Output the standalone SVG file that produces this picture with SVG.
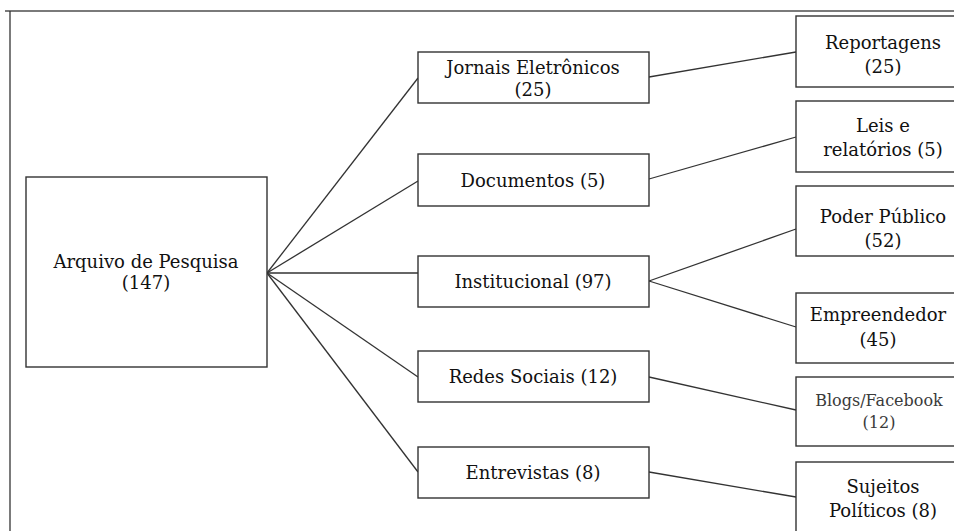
<svg xmlns="http://www.w3.org/2000/svg" width="954" height="531" viewBox="0 0 954 531">
<style>
.box{fill:#fff;stroke:#333;stroke-width:1.4}
.t{font-family:"DejaVu Serif","Liberation Serif",serif;font-size:18px;fill:#111;text-anchor:middle}
.s{font-family:"DejaVu Serif","Liberation Serif",serif;font-size:16px;fill:#3a3a3a;text-anchor:middle}
#connectors line{stroke:#333;stroke-width:1.3;fill:none}
</style>
<rect width="954" height="531" fill="#fff"/>
<g id="frame">
<line x1="5" y1="11" x2="954" y2="11" stroke="#7a7a7a" stroke-width="2"/>
<line x1="10" y1="11" x2="10" y2="531" stroke="#333" stroke-width="1.3"/>
</g>
<g id="connectors">
<line x1="267" y1="273" x2="418" y2="78"/>
<line x1="267" y1="273" x2="418" y2="181"/>
<line x1="267" y1="273" x2="418" y2="273"/>
<line x1="267" y1="273" x2="418" y2="377"/>
<line x1="267" y1="273" x2="418" y2="472"/>
<line x1="649" y1="77" x2="796" y2="52"/>
<line x1="649" y1="179" x2="796" y2="137"/>
<line x1="649" y1="281" x2="796" y2="229"/>
<line x1="649" y1="281" x2="796" y2="327"/>
<line x1="649" y1="377" x2="796" y2="410"/>
<line x1="649" y1="472" x2="796" y2="497"/>
</g>
<g id="arquivo"><rect class="box" x="26" y="177" width="241" height="190"/>
<text class="t" x="146" y="268">Arquivo de Pesquisa</text><text class="t" x="146" y="289">(147)</text></g>
<g id="jornais"><rect class="box" x="418" y="52" width="231" height="51"/>
<text class="t" x="533" y="74">Jornais Eletrônicos</text><text class="t" x="533" y="96">(25)</text></g>
<g id="documentos"><rect class="box" x="418" y="154" width="231" height="52"/>
<text class="t" x="533" y="187">Documentos (5)</text></g>
<g id="institucional"><rect class="box" x="418" y="256" width="231" height="51"/>
<text class="t" x="533" y="288">Institucional (97)</text></g>
<g id="redes"><rect class="box" x="418" y="351" width="231" height="51"/>
<text class="t" x="533" y="383">Redes Sociais (12)</text></g>
<g id="entrevistas"><rect class="box" x="418" y="447" width="231" height="51"/>
<text class="t" x="533" y="479">Entrevistas (8)</text></g>
<g id="reportagens"><rect class="box" x="796" y="16" width="175" height="71"/>
<text class="t" x="883" y="49">Reportagens</text><text class="t" x="883" y="73">(25)</text></g>
<g id="leis"><rect class="box" x="796" y="101" width="175" height="71"/>
<text class="t" x="883" y="132">Leis e</text><text class="t" x="883" y="156">relatórios (5)</text></g>
<g id="poder"><rect class="box" x="796" y="186" width="175" height="70"/>
<text class="t" x="883" y="223">Poder Público</text><text class="t" x="883" y="247">(52)</text></g>
<g id="empreendedor"><rect class="box" x="796" y="293" width="175" height="70"/>
<text class="t" x="878" y="321">Empreendedor</text><text class="t" x="878" y="346">(45)</text></g>
<g id="blogs"><rect class="box" x="796" y="377" width="175" height="69"/>
<text class="s" x="879" y="406">Blogs/Facebook</text><text class="s" x="879" y="428">(12)</text></g>
<g id="sujeitos"><rect class="box" x="796" y="462" width="175" height="80"/>
<text class="t" x="883" y="493">Sujeitos</text><text class="t" x="883" y="517">Políticos (8)</text></g>
</svg>
